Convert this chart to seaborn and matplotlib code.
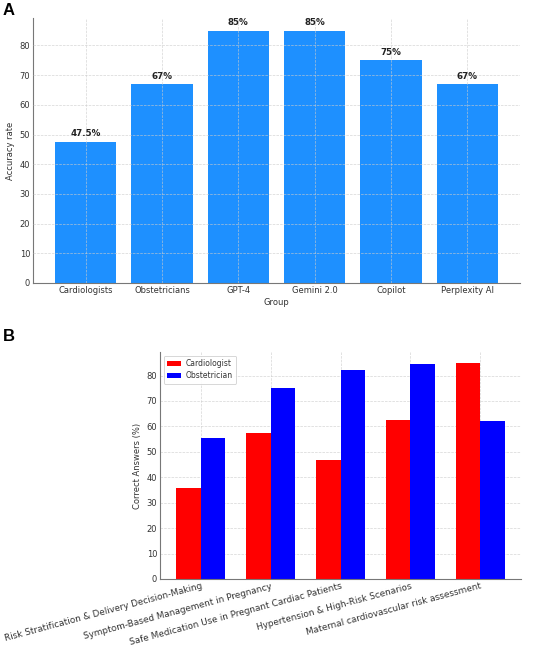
import matplotlib
matplotlib.use("Agg")
import matplotlib.pyplot as plt
import seaborn as sns
import pandas as pd

# ---- Panel A data ----
groups = ["Cardiologists", "Obstetricians", "GPT-4", "Gemini 2.0", "Copilot", "Perplexity AI"]
accuracy = [47.5, 67, 85, 85, 75, 67]
accuracy_labels = ["47.5%", "67%", "85%", "85%", "75%", "67%"]

# ---- Panel B data ----
domains = [
    "Risk Stratification & Delivery Decision-Making",
    "Symptom-Based Management in Pregnancy",
    "Safe Medication Use in Pregnant Cardiac Patients",
    "Hypertension & High-Risk Scenarios",
    "Maternal cardiovascular risk assessment",
]
cardiologist = [35.8, 57.5, 46.6, 62.5, 85.0]
obstetrician = [55.4, 75.0, 82.3, 84.5, 62.0]
series_names = ["Cardiologist", "Obstetrician"]

sns.set_theme(style="white")
plt.rcParams.update({
    "font.family": ["DejaVu Sans"],
    "axes.edgecolor": "#777777",
    "axes.linewidth": 0.8,
    "xtick.color": "#333333",
    "ytick.color": "#333333",
    "axes.labelcolor": "#333333",
    "xtick.labelsize": 6,
    "ytick.labelsize": 6,
    "axes.labelsize": 6,
    "xtick.major.size": 0,
    "ytick.major.size": 0,
    "xtick.major.pad": 2,
    "ytick.major.pad": 2,
})

W, H = 542, 651
fig = plt.figure(figsize=(W / 100, H / 100), dpi=100)

# Panel A
axA = fig.add_axes([33 / W, 1 - 283 / H, 487 / W, 265 / H])
dfA = pd.DataFrame({"Group": groups, "Accuracy rate": accuracy})
sns.barplot(data=dfA, x="Group", y="Accuracy rate", color="#1E90FF",
            saturation=1, width=0.8, ax=axA, edgecolor="none")
axA.set_xlim(-0.69, len(groups) - 1 + 0.69)
axA.set_ylim(0, 89.25)
axA.grid(True, linestyle="--", linewidth=0.5, color="#cccccc", alpha=0.8)
axA.set_axisbelow(False)
for s in ["top", "right"]:
    axA.spines[s].set_visible(False)
for i, (v, lab) in enumerate(zip(accuracy, accuracy_labels)):
    axA.text(i, v + 1.2, lab, ha="center", va="bottom", fontsize=6.3,
             fontweight="bold", color="#222222")
axA.set_xlabel("Group", labelpad=2)
axA.set_ylabel("Accuracy rate", labelpad=3)

# Panel B
axB = fig.add_axes([160 / W, 1 - 579 / H, 361 / W, 227 / H])
dfB = pd.DataFrame({
    "Domain": domains * 2,
    "Value": cardiologist + obstetrician,
    "Group": [series_names[0]] * len(domains) + [series_names[1]] * len(domains),
})
sns.barplot(data=dfB, x="Domain", y="Value", hue="Group",
            palette={"Cardiologist": "red", "Obstetrician": "blue"},
            saturation=1, width=0.7, ax=axB, edgecolor="none")
axB.set_xlim(-0.585, len(domains) - 1 + 0.585)
axB.set_ylim(0, 89.25)
axB.grid(True, linestyle="--", linewidth=0.5, color="#cccccc", alpha=0.8)
axB.set_axisbelow(True)
for s in ["top", "right"]:
    axB.spines[s].set_visible(False)
axB.set_xlabel("")
axB.set_ylabel("Correct Answers (%)", labelpad=3)
plt.setp(axB.get_xticklabels(), rotation=15, ha="right", rotation_mode="anchor",
         fontsize=6.4)
leg = axB.legend(loc="upper left", fontsize=5.5, frameon=True, framealpha=0.9,
                 edgecolor="#cccccc", handlelength=1.8, borderpad=0.45,
                 labelspacing=0.4, handletextpad=0.6)
leg.get_frame().set_linewidth(0.6)
for t in leg.get_texts():
    t.set_color("#333333")

# Panel labels
fig.text(3 / W, 1 - 3 / H, "A", fontsize=12, fontweight="bold",
         family="Liberation Sans", ha="left", va="top", color="black")
fig.text(3 / W, 1 - 329 / H, "B", fontsize=12, fontweight="bold",
         family="Liberation Sans", ha="left", va="top", color="black")

fig.savefig("out.png", dpi=100)
